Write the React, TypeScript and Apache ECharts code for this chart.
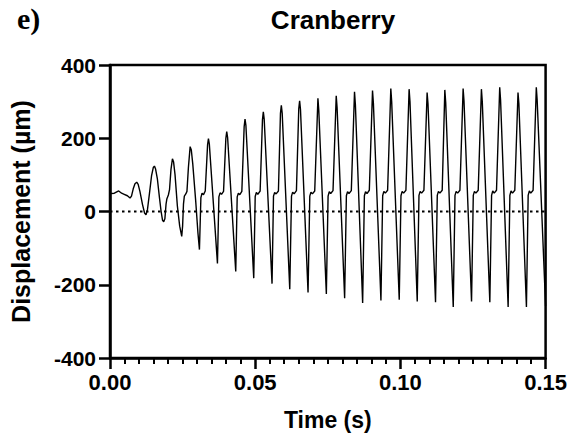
import React, { useEffect, useRef } from "react";
import * as echarts from "echarts";

// Onset of the response (time in s, displacement in µm)
const onsetPoints: [number, number][] = [
  [0.0003, 49], [0.0015, 50], [0.003, 56], [0.004, 50], [0.0049, 47], [0.006, 43],
  [0.0069, 37], [0.0074, 42], [0.008, 62], [0.0086, 76], [0.0092, 80], [0.0097, 74],
  [0.0103, 55], [0.0112, 19], [0.0119, -4], [0.0124, -9], [0.0129, 5], [0.0136, 50],
  [0.0143, 97], [0.0149, 120], [0.0153, 124], [0.0157, 116], [0.0163, 90], [0.017, 40],
  [0.0176, 0], [0.0181, -24], [0.0185, -28], [0.0189, -20], [0.0193, 20], [0.0196, 35],
  [0.0201, 45], [0.0205, 60], [0.021, 115], [0.0215, 144], [0.0219, 135], [0.0224, 100],
  [0.0232, 15], [0.024, -40], [0.0247, -68], [0.025, -40], [0.0253, 20], [0.0256, 42],
  [0.0261, 48], [0.0265, 55], [0.027, 120], [0.0276, 177], [0.028, 168], [0.0285, 130],
  [0.0295, 30], [0.0303, -60],
];

// Growing oscillation (rounded peaks)
const growthPoints: [number, number][] = [
  [0.0308, -104], [0.0313, 38], [0.0317, 50], [0.0322, 46], [0.0328, 56], [0.0336, 182], [0.0339, 199], [0.0342, 185],
  [0.037, -142], [0.0375, 40], [0.0379, 51], [0.0384, 47], [0.0391, 55], [0.0399, 200], [0.0402, 218], [0.0405, 202],
  [0.0433, -164], [0.0438, 40], [0.0442, 50], [0.0447, 46], [0.0454, 55], [0.0462, 232], [0.0465, 252], [0.0468, 235],
  [0.0495, -182], [0.05, 41], [0.0504, 52], [0.0509, 47], [0.0517, 56], [0.0525, 250], [0.0528, 272], [0.0531, 252],
  [0.0558, -197], [0.0563, 42], [0.0567, 52], [0.0572, 48], [0.058, 56], [0.0587, 268], [0.059, 290], [0.0593, 268],
  [0.0619, -212], [0.0625, 42], [0.0629, 53], [0.0634, 48], [0.0642, 57], [0.065, 280], [0.0653, 302], [0.0656, 278],
];

// Steady oscillation (sharp peaks with a notch)
const steadyPoints: [number, number][] = [
  [0.0682, -221], [0.0688, 42], [0.0692, 53], [0.0697, 48], [0.0705, 56], [0.0716, 309], [0.0719, 276],
  [0.0745, -225], [0.0751, 42], [0.0755, 54], [0.076, 49], [0.0768, 57], [0.0779, 316], [0.0782, 284],
  [0.0808, -237], [0.0814, 43], [0.0818, 54], [0.0823, 49], [0.0831, 57], [0.0842, 327], [0.0845, 292],
  [0.087, -250], [0.0876, 43], [0.088, 54], [0.0885, 49], [0.0893, 58], [0.0904, 330], [0.0907, 296],
  [0.0933, -243], [0.0939, 43], [0.0943, 55], [0.0948, 50], [0.0956, 58], [0.0967, 336], [0.097, 300],
  [0.0996, -241], [0.1002, 43], [0.1006, 55], [0.1011, 50], [0.1019, 58], [0.103, 334], [0.1033, 300],
  [0.1058, -246], [0.1064, 44], [0.1068, 55], [0.1073, 50], [0.1081, 58], [0.1092, 325], [0.1095, 295],
  [0.1121, -248], [0.1127, 44], [0.1131, 55], [0.1136, 50], [0.1144, 58], [0.1153, 332], [0.1156, 298],
  [0.1182, -261], [0.1188, 44], [0.1192, 55], [0.1197, 50], [0.1205, 58], [0.1216, 336], [0.1219, 302],
  [0.1245, -246], [0.1251, 44], [0.1255, 55], [0.126, 50], [0.1268, 58], [0.1279, 334], [0.1282, 300],
  [0.1308, -248], [0.1314, 44], [0.1318, 56], [0.1323, 50], [0.1331, 58], [0.1342, 339], [0.1345, 304],
  [0.1371, -261], [0.1377, 44], [0.1381, 56], [0.1386, 50], [0.1394, 58], [0.1405, 325], [0.1408, 295],
  [0.1434, -261], [0.144, 44], [0.1444, 56], [0.1449, 50], [0.1457, 58], [0.1468, 339], [0.1471, 304],
  [0.15, -258],
];

const zeroLine: [number, number][] = [[0, 0], [0.15, 0]];

const xTicks = { min: 0, max: 0.15, step: 0.05 };
const yTicks = { min: -400, max: 400, step: 200 };

const FONT = "'Liberation Sans', Arial, Helvetica, sans-serif";

export default function App() {
  const ref = useRef<HTMLDivElement>(null);
  useEffect(() => {
    document.body.style.margin = "0";
    const chart = echarts.init(ref.current!, null, { renderer: "svg" });
    const signal = [...onsetPoints, ...growthPoints, ...steadyPoints];
    chart.setOption({
      animation: false,
      backgroundColor: "#ffffff",
      title: {
        text: "Cranberry",
        left: 328,
        top: 2,
        textAlign: "center",
        textStyle: { fontFamily: FONT, fontWeight: "bold", fontSize: 26, color: "#000" },
      },
      graphic: [
        {
          type: "text",
          left: 17,
          top: 3,
          style: {
            text: "e)",
            font: "bold 30px 'Liberation Serif', 'Times New Roman', serif",
            fill: "#000",
          },
        },
      ],
      grid: {
        left: 109,
        right: 24,
        top: 65,
        bottom: 80,
        show: true,
        borderColor: "#000",
        borderWidth: 2.5,
        backgroundColor: "transparent",
      },
      xAxis: {
        type: "value",
        min: xTicks.min,
        max: xTicks.max,
        interval: xTicks.step,
        name: "Time (s)",
        nameLocation: "middle",
        nameGap: 50,
        nameTextStyle: { fontFamily: FONT, fontWeight: "bold", fontSize: 23, color: "#000" },
        axisLine: { onZero: false, lineStyle: { color: "#000", width: 2.5 } },
        axisTick: { length: 11, lineStyle: { color: "#000", width: 2.5 } },
        minorTick: { show: true, splitNumber: 10, length: 6, lineStyle: { color: "#000", width: 2 } },
        axisLabel: {
          fontFamily: FONT,
          fontWeight: "bold",
          fontSize: 22,
          color: "#000",
          margin: 13,
          formatter: (v: number) => v.toFixed(2),
        },
        splitLine: { show: false },
      },
      yAxis: {
        type: "value",
        min: yTicks.min,
        max: yTicks.max,
        interval: yTicks.step,
        name: "Displacement (µm)",
        nameLocation: "middle",
        nameRotate: 90,
        nameGap: 77,
        nameTextStyle: { fontFamily: FONT, fontWeight: "bold", fontSize: 25, color: "#000" },
        axisLine: { lineStyle: { color: "#000", width: 2.5 } },
        axisTick: { length: 11, lineStyle: { color: "#000", width: 2.5 } },
        axisLabel: {
          fontFamily: FONT,
          fontWeight: "bold",
          fontSize: 21,
          color: "#000",
          margin: 14,
        },
        splitLine: { show: false },
      },
      series: [
        {
          type: "line",
          data: zeroLine,
          showSymbol: false,
          silent: true,
          lineStyle: { color: "#000", width: 2, type: [2.5, 3.5] },
          z: 1,
        },
        {
          type: "line",
          data: signal,
          showSymbol: false,
          lineStyle: { color: "#000", width: 1.4 },
          z: 2,
        },
      ],
    });
    return () => chart.dispose();
  }, []);
  return <div ref={ref} style={{ width: 570, height: 438 }} />;
}
